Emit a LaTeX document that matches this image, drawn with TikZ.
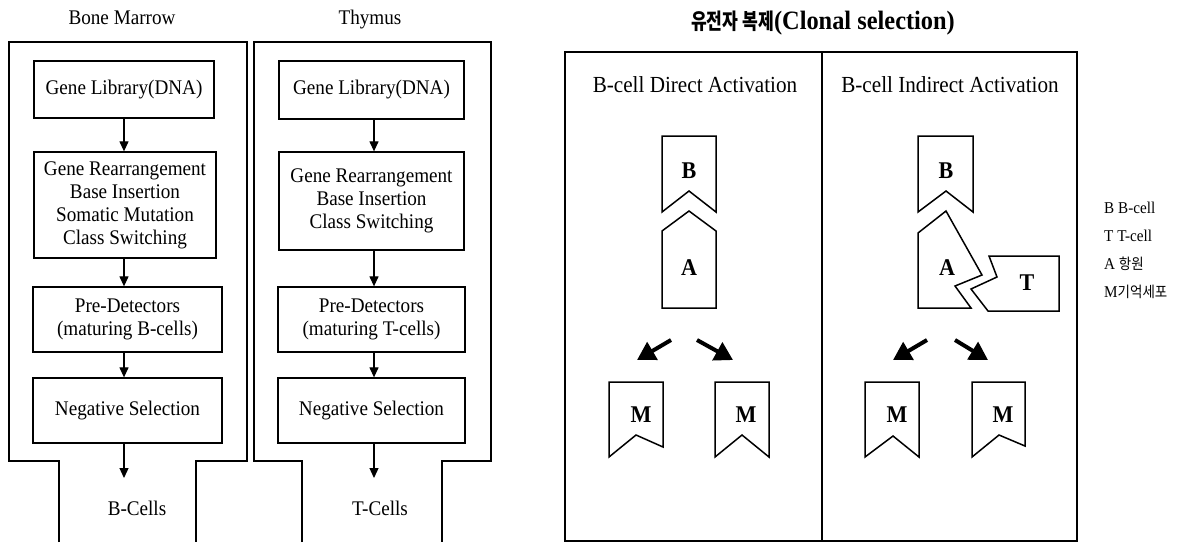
\documentclass[tikz,border=0pt]{standalone}
\usepackage{fontspec}
\setmainfont{Liberation Serif}[FakeStretch=0.92]
\newfontfamily\kr{Noto Sans CJK KR}[FakeStretch=0.78]
\newfontfamily\krleg{Noto Sans CJK KR}[FakeStretch=0.9]
\usetikzlibrary{arrows.meta}
\begin{document}
\begin{tikzpicture}[x=1pt,y=-1pt,line join=miter,
  frame/.style={line width=1.4pt},
  box/.style={draw,line width=1.3pt,align=center,inner sep=0pt,
    font=\fontsize{20.8}{23}\selectfont},
  flow/.style={line width=1.2pt,-{Triangle[length=10pt,width=9pt]}},
  bigarr/.style={line width=4pt,-{Triangle[length=18pt,width=20pt]}},
  cellshape/.style={line width=1.5pt},
  lbl/.style={font=\fontsize{24}{26}\selectfont\bfseries,inner sep=0pt},
  ttl/.style={font=\fontsize{20.8}{23}\selectfont,inner sep=0pt},
  sub/.style={font=\fontsize{23}{26}\selectfont,inner sep=0pt},
  leg/.style={font=\fontsize{16.5}{18}\selectfont,inner sep=0pt,anchor=west}]
\useasboundingbox (0,0) rectangle (1190,542);

% ---------- Bone Marrow ----------
\node[ttl,anchor=base] (bmt) at (122,24) {Bone Marrow};
\draw[frame] (59,542) -- (59,461) -- (9,461) -- (9,42) -- (247,42) -- (247,461) -- (196,461) -- (196,542);
\node[box,minimum width=180pt,minimum height=57pt] (bm1) at (124,89.5) {Gene Library(DNA)};
\node[box,minimum width=182pt,minimum height=106pt] (bm2) at (125,205) {Gene Rearrangement\\Base Insertion\\Somatic Mutation\\Class Switching};
\node[box,minimum width=189pt,minimum height=65pt] (bm3) at (127.5,319.5) {Pre-Detectors\\(maturing B-cells)};
\node[box,minimum width=189pt,minimum height=65pt] (bm4) at (127.5,410.5) {Negative Selection};
\coordinate (bmx) at (124,0);
\draw[flow] (bmx |- bm1.south) -- (bmx |- bm2.north);
\draw[flow] (bmx |- bm2.south) -- (bmx |- bm3.north);
\draw[flow] (bmx |- bm3.south) -- (bmx |- bm4.north);
\coordinate (bmtip) at (124,478);
\draw[flow] (bmtip |- bm4.south) -- (bmtip);
\node[ttl] (bmc) at (137,508) {B-Cells};

% ---------- Thymus ----------
\node[ttl,anchor=base] (tht) at (370,24) {Thymus};
\draw[frame] (302,542) -- (302,461) -- (254,461) -- (254,42) -- (491,42) -- (491,461) -- (442,461) -- (442,542);
\node[box,minimum width=185pt,minimum height=58pt] (th1) at (371.5,90) {Gene Library(DNA)};
\node[box,minimum width=185pt,minimum height=98pt] (th2) at (371.5,201) {Gene Rearrangement\\Base Insertion\\Class Switching};
\node[box,minimum width=187pt,minimum height=65pt] (th3) at (371.5,319.5) {Pre-Detectors\\(maturing T-cells)};
\node[box,minimum width=187pt,minimum height=65pt] (th4) at (371.5,410.5) {Negative Selection};
\coordinate (thx) at (374,0);
\draw[flow] (thx |- th1.south) -- (thx |- th2.north);
\draw[flow] (thx |- th2.south) -- (thx |- th3.north);
\draw[flow] (thx |- th3.south) -- (thx |- th4.north);
\coordinate (thtip) at (374,478);
\draw[flow] (thtip |- th4.south) -- (thtip);
\node[ttl] (thc) at (380,508) {T-Cells};

% ---------- Clonal selection ----------
\node[inner sep=0pt] (cst) at (823,23) {{\fontsize{22}{26}\selectfont\kr\bfseries 유전자 복제}{\fontsize{26.5}{30}\selectfont\bfseries(Clonal selection)}};
\draw[frame] (565,52) rectangle (1077,541);
\draw[frame] (822,52) -- (822,541);
\node[sub] (sd) at (695,85) {B-cell Direct Activation};
\node[sub] (si) at (950,85) {B-cell Indirect Activation};

% direct activation
\draw[cellshape] (662,136) -- (716,136) -- (716,212) -- (689,191) -- (662,212) -- cycle;
\node[lbl] (b1) at (689,171) {B};
\draw[cellshape] (662,308) -- (662,231) -- (689,211) -- (716,231) -- (716,308) -- cycle;
\node[lbl] (a1) at (689,268) {A};
\coordinate (d1s) at (671,340); \coordinate (d1e) at (637,360);
\coordinate (d2s) at (697,340); \coordinate (d2e) at (733,360);
\draw[bigarr] (d1s) -- (d1e);
\draw[bigarr] (d2s) -- (d2e);
\draw[cellshape] (609,382) -- (663,382) -- (663,447) -- (636,435) -- (609,457) -- cycle;
\node[lbl] (m1) at (641,415) {M};
\draw[cellshape] (715,382) -- (769,382) -- (769,457) -- (742,435) -- (715,457) -- cycle;
\node[lbl] (m2) at (746,415) {M};

% indirect activation
\draw[cellshape] (918,136) -- (973,136) -- (973,212) -- (946,191) -- (918,212) -- cycle;
\node[lbl] (b2) at (946,171) {B};
\draw[cellshape] (918,308) -- (918,233) -- (946,211) -- (982,275) -- (955,286) -- (971,308) -- cycle;
\node[lbl] (a2) at (947,268) {A};
\draw[cellshape] (989,256) -- (1059,256) -- (1059,311) -- (988,311) -- (971,289) -- (997,277) -- cycle;
\node[lbl] (t2) at (1027,283) {T};
\coordinate (i1s) at (927,340); \coordinate (i1e) at (893,360);
\coordinate (i2s) at (955,340); \coordinate (i2e) at (988,360);
\draw[bigarr] (i1s) -- (i1e);
\draw[bigarr] (i2s) -- (i2e);
\draw[cellshape] (865,382) -- (919,382) -- (919,457) -- (893,436) -- (865,457) -- cycle;
\node[lbl] (m3) at (897,415) {M};
\draw[cellshape] (972,382) -- (1025,382) -- (1025,446) -- (999,435) -- (972,457) -- cycle;
\node[lbl] (m4) at (1003,415) {M};

% legend
\node[leg] (lg1) at (1104,208) {B B-cell};
\node[leg] (lg2) at (1104,236) {T T-cell};
\node[leg] (lg3) at (1104,264) {A {\krleg\fontsize{15}{17}\selectfont 항원}};
\node[leg] (lg4) at (1104,292) {M{\krleg\fontsize{15}{17}\selectfont 기억세포}};
\end{tikzpicture}
\end{document}
